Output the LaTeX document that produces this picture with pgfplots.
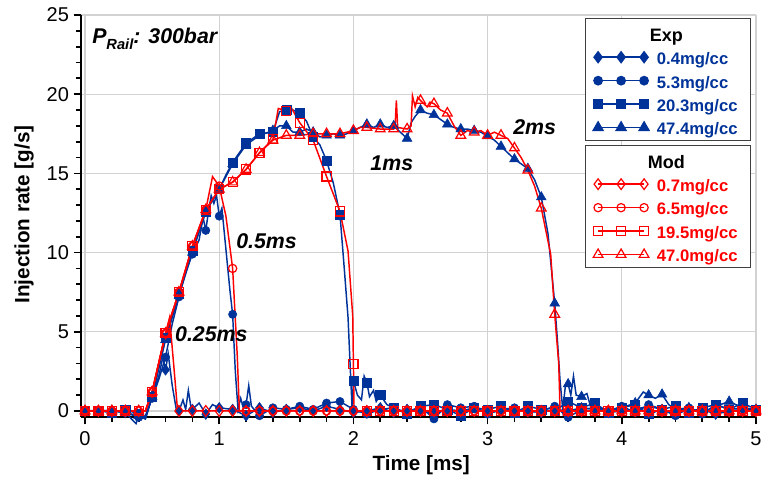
\documentclass[border=0pt]{standalone}
\usepackage{pgfplots}
\pgfplotsset{compat=1.18}
\usepackage{pgfplotstable}
\usepackage{fontspec}
\setmainfont{Liberation Sans}
\definecolor{expblue}{RGB}{0,51,153}
\definecolor{modred}{RGB}{255,0,0}

% ---------- Exp (blue) ----------
\pgfplotstableread[row sep=\\]{
x y m\\
0 0 1\\ 0.1 0 1\\ 0.2 0.05 1\\ 0.3 -0.1 1\\ 0.38 -0.8 0\\ 0.4 -0.3 1\\ 0.45 -0.5 0\\ 0.5 0.9 1\\ 0.55 2.2 0\\ 0.58 3.4 0\\ 0.6 2.6 1\\ 0.62 3.6 0\\ 0.65 1.6 0\\ 0.68 0.1 0\\ 0.7 0 1\\ 0.73 0.7 0\\ 0.75 0.1 0\\ 0.77 1.3 0\\ 0.79 0.2 0\\ 0.8 0.1 1\\ 0.85 0.5 0\\ 0.9 -0.2 1\\ 0.95 0.4 0\\ 1.0 0.2 1\\ 1.1 0.1 1\\ 1.2 -0.3 1\\ 1.3 0.2 1\\ 1.4 -0.1 1\\ 1.5 0.1 1\\ 1.6 0.2 1\\ 1.7 0 1\\ 1.8 0.3 1\\ 1.9 0.1 1\\ 2.0 -0.1 1\\ 2.1 0 1\\ 2.2 0.2 1\\ 2.3 -0.1 1\\ 2.4 0.1 1\\ 2.5 0 1\\ 2.6 -0.2 1\\ 2.7 0.1 1\\ 2.8 0 1\\ 2.9 0.2 1\\ 3.0 -0.1 1\\ 3.1 0 1\\ 3.2 0.1 1\\ 3.3 0 1\\ 3.4 -0.1 1\\ 3.5 0.1 1\\ 3.6 0 1\\ 3.7 0.2 1\\ 3.8 0.1 1\\ 3.9 -0.1 1\\ 4.0 0 1\\ 4.1 0.1 1\\ 4.2 0.3 1\\ 4.3 0.1 1\\ 4.4 -0.1 1\\ 4.5 0 1\\ 4.6 0.1 1\\ 4.7 -0.2 1\\ 4.8 0 1\\ 4.9 0.1 1\\ 5.0 0 1\\
}\bA
\pgfplotstableread[row sep=\\]{
x y m\\
0 0 1\\ 0.1 0.05 1\\ 0.2 0 1\\ 0.3 -0.1 1\\ 0.4 -0.4 1\\ 0.45 -0.3 0\\ 0.5 0.8 1\\ 0.55 2.0 0\\ 0.6 3.4 1\\ 0.65 5.5 0\\ 0.7 7.2 1\\ 0.75 8.8 0\\ 0.8 9.9 1\\ 0.85 10.8 0\\ 0.88 12.2 0\\ 0.9 11.4 1\\ 0.92 12.6 0\\ 0.94 13.6 0\\ 0.96 13.1 0\\ 0.98 13.6 0\\ 1.0 12.3 1\\ 1.02 12.8 0\\ 1.05 10.2 0\\ 1.08 7.6 0\\ 1.1 6.1 1\\ 1.12 2.5 0\\ 1.14 0.1 0\\ 1.16 0.8 0\\ 1.18 0.2 0\\ 1.2 0.4 1\\ 1.22 1.6 0\\ 1.24 0.3 0\\ 1.3 -0.3 1\\ 1.4 0.2 1\\ 1.5 0.1 1\\ 1.6 0.3 1\\ 1.7 0.1 1\\ 1.8 0.5 1\\ 1.9 0.6 1\\ 2.0 0.1 1\\ 2.1 -0.2 1\\ 2.2 0.1 1\\ 2.3 0.2 1\\ 2.4 -0.1 1\\ 2.5 0.3 1\\ 2.6 -0.5 1\\ 2.7 0.4 1\\ 2.8 0.2 1\\ 2.9 0.3 1\\ 3.0 -0.2 1\\ 3.1 0.1 1\\ 3.2 0.2 1\\ 3.3 -0.1 1\\ 3.4 0 1\\ 3.5 0.3 1\\ 3.6 -0.4 1\\ 3.7 0.1 1\\ 3.8 0.2 1\\ 3.9 0 1\\ 4.0 0.3 1\\ 4.1 -0.1 1\\ 4.2 0.4 1\\ 4.3 0.1 1\\ 4.4 -0.3 1\\ 4.5 0.2 1\\ 4.6 -0.2 1\\ 4.7 0.4 1\\ 4.8 0.1 1\\ 4.9 0.2 1\\ 5.0 0 1\\
}\bB
\pgfplotstableread[row sep=\\]{
x y m\\
0 0 1\\ 0.1 0 1\\ 0.2 -0.1 1\\ 0.3 0.1 1\\ 0.4 -0.2 1\\ 0.45 -0.4 0\\ 0.5 0.9 1\\ 0.6 4.6 1\\ 0.7 7.4 1\\ 0.8 10.1 1\\ 0.9 12.6 1\\ 1.0 14.0 1\\ 1.05 14.9 0\\ 1.1 15.7 1\\ 1.2 16.9 1\\ 1.3 17.5 1\\ 1.4 17.6 1\\ 1.45 18.9 0\\ 1.5 19.0 1\\ 1.55 19.0 0\\ 1.6 18.8 1\\ 1.65 18.3 0\\ 1.7 17.3 1\\ 1.75 16.8 0\\ 1.8 15.8 1\\ 1.85 14.4 0\\ 1.9 12.4 1\\ 1.93 9.2 0\\ 1.96 5.9 0\\ 1.975 3.0 0\\ 1.99 0.2 0\\ 2.0 1.9 1\\ 2.03 1.0 0\\ 2.06 0.7 0\\ 2.08 2.2 0\\ 2.1 1.8 1\\ 2.12 0.9 0\\ 2.15 1.3 0\\ 2.17 0.6 0\\ 2.2 1.0 1\\ 2.25 0.4 0\\ 2.3 0.2 1\\ 2.4 -0.2 1\\ 2.5 0.3 1\\ 2.6 0.4 1\\ 2.7 0.1 1\\ 2.8 -0.3 1\\ 2.9 0.2 1\\ 3.0 0.1 1\\ 3.1 0.3 1\\ 3.2 -0.1 1\\ 3.3 0.3 1\\ 3.4 0.1 1\\ 3.5 0 1\\ 3.6 0.6 1\\ 3.7 0.2 1\\ 3.8 0.5 1\\ 3.9 -0.1 1\\ 4.0 0.2 1\\ 4.1 0.4 1\\ 4.2 -0.2 1\\ 4.3 0.1 1\\ 4.4 0.3 1\\ 4.5 -0.1 1\\ 4.6 0.2 1\\ 4.7 0.4 1\\ 4.8 0.1 1\\ 4.9 0.5 1\\ 5.0 0.1 1\\
}\bC
\pgfplotstableread[row sep=\\]{
x y m\\
0 0 1\\ 0.1 0 1\\ 0.2 0 1\\ 0.3 -0.1 1\\ 0.4 -0.3 1\\ 0.45 -0.5 0\\ 0.5 0.9 1\\ 0.6 4.5 1\\ 0.7 7.3 1\\ 0.8 10.0 1\\ 0.9 12.6 1\\ 1.0 14.0 1\\ 1.1 15.6 1\\ 1.2 16.8 1\\ 1.3 17.4 1\\ 1.4 17.7 1\\ 1.45 18.0 0\\ 1.5 18.0 1\\ 1.55 17.6 0\\ 1.6 17.6 1\\ 1.65 17.8 0\\ 1.7 17.6 1\\ 1.75 17.3 0\\ 1.8 17.4 1\\ 1.85 17.5 0\\ 1.9 17.4 1\\ 1.95 17.5 0\\ 2.0 17.7 1\\ 2.05 17.9 0\\ 2.1 18.1 1\\ 2.15 17.9 0\\ 2.2 18.1 1\\ 2.25 17.9 0\\ 2.3 18.0 1\\ 2.35 17.6 0\\ 2.4 17.2 1\\ 2.43 18.2 0\\ 2.46 18.6 0\\ 2.5 19.0 1\\ 2.55 18.8 0\\ 2.6 18.7 1\\ 2.65 18.4 0\\ 2.7 18.1 1\\ 2.75 17.9 0\\ 2.8 17.8 1\\ 2.85 17.8 0\\ 2.9 17.7 1\\ 2.95 17.6 0\\ 3.0 17.35 1\\ 3.05 17.1 0\\ 3.1 16.7 1\\ 3.15 16.3 0\\ 3.2 15.9 1\\ 3.25 15.6 0\\ 3.3 15.3 1\\ 3.35 14.6 0\\ 3.4 13.5 1\\ 3.45 11.2 0\\ 3.5 6.8 1\\ 3.52 4.5 0\\ 3.54 1.9 0\\ 3.56 0.1 0\\ 3.58 1.6 0\\ 3.6 1.7 1\\ 3.62 1.0 0\\ 3.64 2.2 0\\ 3.66 1.0 0\\ 3.7 0.9 1\\ 3.74 1.1 0\\ 3.77 0.2 0\\ 3.8 0.3 1\\ 3.9 0 1\\ 4.0 0.2 1\\ 4.1 0.5 1\\ 4.16 1.2 0\\ 4.2 1.0 1\\ 4.25 0.8 0\\ 4.3 1.05 1\\ 4.35 0.4 0\\ 4.4 0.1 1\\ 4.5 0.2 1\\ 4.6 -0.1 1\\ 4.7 0.3 1\\ 4.8 0.6 1\\ 4.9 0.2 1\\ 5.0 0.1 1\\
}\bD

% ---------- Mod (red) ----------
\pgfplotstableread[row sep=\\]{
x y m\\
0 0 1\\ 0.1 0 1\\ 0.2 0 1\\ 0.3 0 1\\ 0.4 0 1\\ 0.45 0 0\\ 0.5 1.2 1\\ 0.6 4.9 1\\ 0.63 5.9 0\\ 0.66 3.0 0\\ 0.69 0 0\\ 0.7 0 1\\ 0.8 0 1\\ 0.9 0 1\\ 1.0 0 1\\ 1.1 0 1\\ 1.2 0 1\\ 1.3 0 1\\ 1.4 0 1\\ 1.5 0 1\\ 1.6 0 1\\ 1.7 0 1\\ 1.8 0 1\\ 1.9 0 1\\ 2.0 0 1\\ 2.1 0 1\\ 2.2 0 1\\ 2.3 0 1\\ 2.4 0 1\\ 2.5 0 1\\ 2.6 0 1\\ 2.7 0 1\\ 2.8 0 1\\ 2.9 0 1\\ 3.0 0 1\\ 3.1 0 1\\ 3.2 0 1\\ 3.3 0 1\\ 3.4 0 1\\ 3.5 0 1\\ 3.6 0 1\\ 3.7 0 1\\ 3.8 0 1\\ 3.9 0 1\\ 4.0 0 1\\ 4.1 0 1\\ 4.2 0 1\\ 4.3 0 1\\ 4.4 0 1\\ 4.5 0 1\\ 4.6 0 1\\ 4.7 0 1\\ 4.8 0 1\\ 4.9 0 1\\ 5.0 0 1\\
}\rA
\pgfplotstableread[row sep=\\]{
x y m\\
0 0 1\\ 0.1 0 1\\ 0.2 0 1\\ 0.3 0 1\\ 0.4 0 1\\ 0.45 0 0\\ 0.5 1.2 1\\ 0.6 4.9 1\\ 0.7 7.5 1\\ 0.8 10.4 1\\ 0.9 12.7 1\\ 0.95 14.8 0\\ 1.0 14.2 1\\ 1.05 12.3 0\\ 1.1 9.0 1\\ 1.135 3.4 0\\ 1.15 0 0\\ 1.2 0 1\\ 1.3 0 1\\ 1.4 0 1\\ 1.5 0 1\\ 1.6 0 1\\ 1.7 0 1\\ 1.8 0 1\\ 1.9 0 1\\ 2.0 0 1\\ 2.1 0 1\\ 2.2 0 1\\ 2.3 0 1\\ 2.4 0 1\\ 2.5 0 1\\ 2.6 0 1\\ 2.7 0 1\\ 2.8 0 1\\ 2.9 0 1\\ 3.0 0 1\\ 3.1 0 1\\ 3.2 0 1\\ 3.3 0 1\\ 3.4 0 1\\ 3.5 0 1\\ 3.6 0 1\\ 3.7 0 1\\ 3.8 0 1\\ 3.9 0 1\\ 4.0 0 1\\ 4.1 0 1\\ 4.2 0 1\\ 4.3 0 1\\ 4.4 0 1\\ 4.5 0 1\\ 4.6 0 1\\ 4.7 0 1\\ 4.8 0 1\\ 4.9 0 1\\ 5.0 0 1\\
}\rB
\pgfplotstableread[row sep=\\]{
x y m\\
0 0 1\\ 0.1 0 1\\ 0.2 0 1\\ 0.3 0 1\\ 0.4 0 1\\ 0.45 0 0\\ 0.5 1.2 1\\ 0.6 4.9 1\\ 0.7 7.5 1\\ 0.8 10.4 1\\ 0.9 12.7 1\\ 1.0 14.0 1\\ 1.1 14.45 1\\ 1.2 15.25 1\\ 1.3 16.3 1\\ 1.4 17.15 1\\ 1.44 19.1 0\\ 1.5 18.95 1\\ 1.54 19.1 0\\ 1.6 18.2 1\\ 1.7 17.1 1\\ 1.8 14.8 1\\ 1.9 12.6 1\\ 1.96 10.1 0\\ 1.995 6.0 0\\ 2.0 2.95 1\\ 2.005 0 0\\ 2.1 0 1\\ 2.2 0 1\\ 2.3 0 1\\ 2.4 0 1\\ 2.5 0 1\\ 2.6 0 1\\ 2.7 0 1\\ 2.8 0 1\\ 2.9 0 1\\ 3.0 0 1\\ 3.1 0 1\\ 3.2 0 1\\ 3.3 0 1\\ 3.4 0 1\\ 3.5 0 1\\ 3.6 0 1\\ 3.7 0 1\\ 3.8 0 1\\ 3.9 0 1\\ 4.0 0 1\\ 4.1 0 1\\ 4.2 0 1\\ 4.3 0 1\\ 4.4 0 1\\ 4.5 0 1\\ 4.6 0 1\\ 4.7 0 1\\ 4.8 0 1\\ 4.9 0 1\\ 5.0 0 1\\
}\rC
\pgfplotstableread[row sep=\\]{
x y m\\
0 0 1\\ 0.1 0 1\\ 0.2 0 1\\ 0.3 0 1\\ 0.4 0 1\\ 0.45 0 0\\ 0.5 1.2 1\\ 0.6 4.9 1\\ 0.7 7.5 1\\ 0.8 10.4 1\\ 0.9 12.7 1\\ 1.0 14.0 1\\ 1.1 14.45 1\\ 1.2 15.25 1\\ 1.3 16.3 1\\ 1.4 17.1 1\\ 1.5 17.4 1\\ 1.6 17.4 1\\ 1.7 17.5 1\\ 1.8 17.5 1\\ 1.9 17.5 1\\ 2.0 17.7 1\\ 2.05 17.9 0\\ 2.1 17.9 1\\ 2.2 17.8 1\\ 2.3 17.8 1\\ 2.31 17.9 0\\ 2.32 19.6 0\\ 2.33 17.9 0\\ 2.4 17.8 1\\ 2.43 18.0 0\\ 2.44 19.9 0\\ 2.46 19.2 0\\ 2.48 19.8 0\\ 2.5 19.6 1\\ 2.55 19.2 0\\ 2.57 19.5 0\\ 2.6 19.4 1\\ 2.65 19.0 0\\ 2.7 18.8 1\\ 2.75 18.0 0\\ 2.8 17.4 1\\ 2.85 17.7 0\\ 2.9 17.6 1\\ 2.95 17.7 0\\ 3.0 17.4 1\\ 3.05 17.6 0\\ 3.1 17.4 1\\ 3.15 17.2 0\\ 3.2 16.6 1\\ 3.25 16.0 0\\ 3.3 15.2 1\\ 3.35 14.2 0\\ 3.4 12.8 1\\ 3.47 9.9 0\\ 3.5 6.1 1\\ 3.53 3.0 0\\ 3.54 0 0\\ 3.6 0 1\\ 3.7 0 1\\ 3.8 0 1\\ 3.9 0 1\\ 4.0 0 1\\ 4.1 0 1\\ 4.2 0 1\\ 4.3 0 1\\ 4.4 0 1\\ 4.5 0 1\\ 4.6 0 1\\ 4.7 0 1\\ 4.8 0 1\\ 4.9 0 1\\ 5.0 0 1\\
}\rD

\pgfplotsset{
  bl/.style={expblue, line width=1.1pt, mark=none},
  bm/.style={expblue, only marks, mark options={solid, line width=0.4pt}, restrict expr to domain={\thisrow{m}}{0.5:1.5}},
  rl/.style={modred, line width=1.1pt, mark=none},
  rm/.style={modred, only marks, mark options={solid, line width=0.9pt}, restrict expr to domain={\thisrow{m}}{0.5:1.5}},
  lgimg/.style={legend image code/.code={\draw plot coordinates {(0pt,0pt) (17.25pt,0pt) (34.5pt,0pt)};}},
  lgaxis/.style={at={(0,0)}, anchor=south west, scale only axis, width=506.25pt, height=301.5pt,
    hide axis, xmin=0, xmax=1, ymin=0, ymax=1, legend cell align=left},
  lgstyle/.style={legend style={anchor=north east, draw=black!75, line width=1.1pt, fill=white,
    inner xsep=6pt, inner ysep=2.5pt, row sep=3.6pt, column sep=6pt, nodes={inner sep=0pt},
    font=\fontsize{12.5}{15}\selectfont\bfseries}},
}

\begin{document}
\begin{tikzpicture}
\useasboundingbox (-60.75pt,-51pt) rectangle (513pt,312.75pt);
\begin{axis}[
  at={(0,0)}, anchor=south west,
  scale only axis, width=506.25pt, height=301.5pt,
  xmin=-0.03, xmax=5, ymin=-0.38, ymax=25,
  clip=false,
  axis x line*=bottom, axis y line*=left,
  axis line style={line width=2.2pt, black, -},
  xtick={0,1,2,3,4,5}, ytick={0,5,10,15,20,25},
  minor x tick num=4, minor y tick num=4,
  tick align=outside,
  major tick length=5.5pt, minor tick length=3.8pt,
  every tick/.style={black, line width=1.3pt},
  grid=major, major grid style={gray!35, line width=0.8pt},
  ticklabel style={font=\fontsize{15}{18}\selectfont},
  xticklabel style={yshift=-2pt},
  /pgf/number format/assume math mode=true,
  xlabel={Time [ms]}, ylabel={Injection rate [g/s]},
  label style={font=\fontsize{15.5}{18}\selectfont\bfseries},
  xlabel style={at={(axis description cs:0.504,-0.119)}, anchor=center},
  ylabel style={at={(axis description cs:-0.0844,0.504)}, anchor=center},
]
\addplot[bl] table[x=x,y=y]{\bA};
\addplot[bm, mark=diamond*, mark size=4pt] table[x=x,y=y]{\bA};
\addplot[bl] table[x=x,y=y]{\bB};
\addplot[bm, mark=*, mark size=3.1pt] table[x=x,y=y]{\bB};
\addplot[bl] table[x=x,y=y]{\bC};
\addplot[bm, mark=square*, mark size=3.4pt] table[x=x,y=y]{\bC};
\addplot[bl] table[x=x,y=y]{\bD};
\addplot[bm, mark=triangle*, mark size=4.2pt] table[x=x,y=y]{\bD};

\addplot[rl] table[x=x,y=y]{\rA};
\addplot[rm, mark=diamond, mark size=4pt] table[x=x,y=y]{\rA};
\addplot[rl] table[x=x,y=y]{\rB};
\addplot[rm, mark=o, mark size=3.1pt] table[x=x,y=y]{\rB};
\addplot[rl] table[x=x,y=y]{\rC};
\addplot[rm, mark=square, mark size=3.4pt] table[x=x,y=y]{\rC};
\addplot[rl] table[x=x,y=y]{\rD};
\addplot[rm, mark=triangle, mark size=4.2pt] table[x=x,y=y]{\rD};

\begin{scope}[every node/.style={anchor=base west, inner sep=0pt, font=\fontsize{16}{19}\selectfont\bfseries\itshape}]
\node at (axis cs:0.052,23.2) {P\raisebox{-0.3em}{\fontsize{11}{13}\selectfont Rail}: 300bar};
\node at (axis cs:0.67,4.4) {0.25ms};
\node at (axis cs:1.125,10.25) {0.5ms};
\node at (axis cs:2.125,15.2) {1ms};
\node at (axis cs:3.19,17.45) {2ms};
\end{scope}
\end{axis}

\begin{axis}[lgaxis, lgstyle, legend style={at={(0.9926,0.9925)}}]
\addlegendimage{empty legend}
\addlegendentry{\rule[-7.75pt]{0pt}{22pt}\makebox[64pt][c]{\hspace*{-50pt}\fontsize{13.5}{15}\selectfont Exp}}
\addlegendimage{expblue, line width=1.1pt, mark=diamond*, mark size=4pt, mark options={solid}, lgimg}
\addlegendentry{\rule[-4.5pt]{0pt}{17pt}\makebox[64pt][l]{\color{expblue}0.4mg/cc}}
\addlegendimage{expblue, line width=1.1pt, mark=*, mark size=3.1pt, mark options={solid}, lgimg}
\addlegendentry{\rule[-4.5pt]{0pt}{17pt}\makebox[64pt][l]{\color{expblue}5.3mg/cc}}
\addlegendimage{expblue, line width=1.1pt, mark=square*, mark size=3.4pt, mark options={solid}, lgimg}
\addlegendentry{\rule[-4.5pt]{0pt}{17pt}\makebox[64pt][l]{\color{expblue}20.3mg/cc}}
\addlegendimage{expblue, line width=1.1pt, mark=triangle*, mark size=4.2pt, mark options={solid}, lgimg}
\addlegendentry{\rule[-4.5pt]{0pt}{17pt}\makebox[64pt][l]{\color{expblue}47.4mg/cc}}
\end{axis}

\begin{axis}[lgaxis, lgstyle, legend style={at={(0.9926,0.6766)}}]
\addlegendimage{empty legend}
\addlegendentry{\rule[-7.75pt]{0pt}{22pt}\makebox[64pt][c]{\hspace*{-50pt}\fontsize{13.5}{15}\selectfont Mod}}
\addlegendimage{modred, line width=1.1pt, mark=diamond, mark size=4pt, mark options={solid, line width=0.9pt}, lgimg}
\addlegendentry{\rule[-4.5pt]{0pt}{17pt}\makebox[64pt][l]{\color{modred}0.7mg/cc}}
\addlegendimage{modred, line width=1.1pt, mark=o, mark size=3.1pt, mark options={solid, line width=0.9pt}, lgimg}
\addlegendentry{\rule[-4.5pt]{0pt}{17pt}\makebox[64pt][l]{\color{modred}6.5mg/cc}}
\addlegendimage{modred, line width=1.1pt, mark=square, mark size=3.4pt, mark options={solid, line width=0.9pt}, lgimg}
\addlegendentry{\rule[-4.5pt]{0pt}{17pt}\makebox[64pt][l]{\color{modred}19.5mg/cc}}
\addlegendimage{modred, line width=1.1pt, mark=triangle, mark size=4.2pt, mark options={solid, line width=0.9pt}, lgimg}
\addlegendentry{\rule[-4.5pt]{0pt}{17pt}\makebox[64pt][l]{\color{modred}47.0mg/cc}}
\end{axis}
\end{tikzpicture}
\end{document}
